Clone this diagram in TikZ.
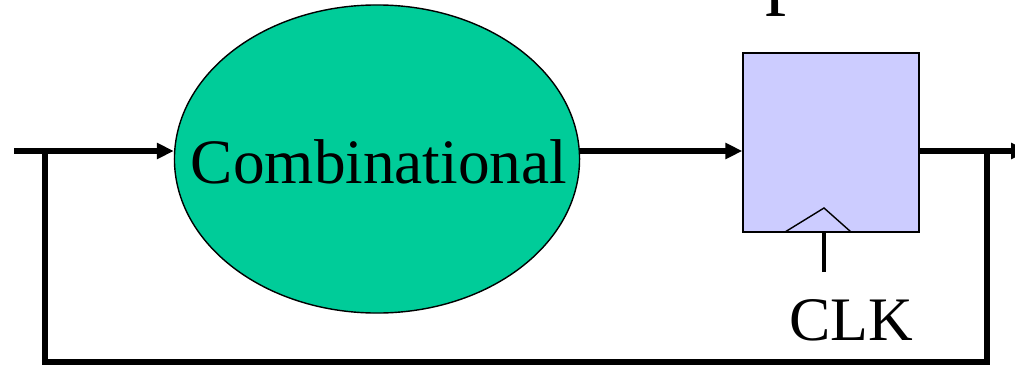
\documentclass[tikz,border=0pt]{standalone}
\usepackage{fontspec}
\setmainfont{Liberation Serif}
\usepackage{tikz}
\usetikzlibrary{shapes.geometric, arrows.meta, positioning, calc}
\definecolor{combgreen}{RGB}{0,204,153}
\definecolor{regblue}{RGB}{204,204,255}
\tikzset{
    block_comb/.style={ellipse, draw, line width=1pt, fill=combgreen, minimum width=10.125cm, minimum height=7.7cm, inner sep=0pt},
    block_reg/.style={rectangle, draw, line width=1pt, fill=regblue, minimum width=4.4cm, minimum height=4.475cm, inner sep=0pt},
    big_text/.style={font=\fontsize{44}{50}\selectfont, inner sep=0pt},
    wire/.style={line width=4.3pt},
    arrow/.style={-{Triangle[length=12pt, width=11pt]}, line width=4.3pt}
}

\begin{document}
\begin{tikzpicture}[x=0.025cm, y=-0.025cm]
            % Frame
            \useasboundingbox (0, 0) rectangle (1015, 368);
            
            % Blocks
            \node (comb) [block_comb] at (377, 159) {};
            \node (combtext) [big_text, font=\fontsize{45}{50}\selectfont, anchor=base] at (379, 183) {Combinational};
            \node (reg) [block_reg] at (831, 142.5) {};
            \node (toptext) [big_text, font=\fontsize{60}{66}\selectfont, anchor=base west] at (765, -1.5) {p};
            \node (clk) [big_text, anchor=base] at (851, 340) {CLK};
            
            % Clock input
            \coordinate (clkin) at (824, 272);
            \draw [line width=1pt] (785, 232) -- (824, 208) -- (851, 232);
            \draw [line width=3.5pt] (clkin) -- (clkin |- reg.south);
            
            % Connections
            \coordinate (in) at (14, 151);
            \coordinate (out) at (1028, 151);
            \coordinate (tapl) at (45, 151);
            \coordinate (tapr) at (987, 151);
            \draw [arrow] (in) -- (comb.west |- in);
            \draw [arrow] (comb.east |- in) -- (reg.west |- in);
            \draw [arrow] (reg.east |- in) -- (out);
            
            % Feedback loop
            \draw [wire, line join=miter] (tapr) -- (987, 362) -- (45, 362) -- (tapl);
\end{tikzpicture}
\end{document}
